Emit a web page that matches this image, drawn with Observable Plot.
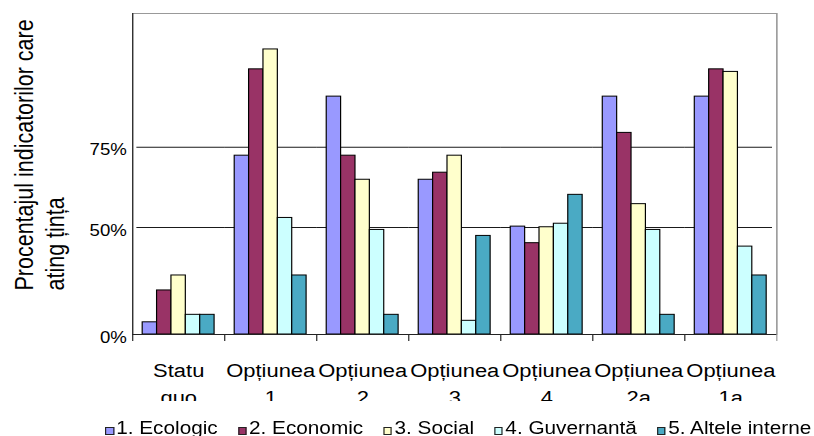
<!DOCTYPE html>
<html><head><meta charset="utf-8">
<script src="https://cdn.jsdelivr.net/npm/d3@7"></script>
<script src="https://cdn.jsdelivr.net/npm/@observablehq/plot@0.6"></script>
<style>
html,body{margin:0;padding:0;background:#fff;overflow:hidden;width:814px;height:436px}
#wrap{width:690px;transform:scaleX(1.1797);transform-origin:0 0;font-family:Arial,"Liberation Sans",sans-serif;color:#000}
#legend{display:flex;margin-top:17px;padding-left:89px;font-size:17.6px;line-height:20px;white-space:nowrap}
.item{margin-right:17px}
.sw{display:inline-block;width:5.5px;height:5.7px;border:1px solid #222;margin-right:2px;vertical-align:-1px}
</style></head><body><div id="wrap"></div>
<script>
const categories = ["Statu quo", "Opțiunea 1", "Opțiunea 2", "Opțiunea 3", "Opțiunea 4", "Opțiunea 2a", "Opțiunea 1a"];
const seriesNames = ["1. Ecologic", "2. Economic", "3. Social", "4. Guvernantă", "5. Altele interne"];
const colors = ["#9999ff", "#993366", "#ffffcc", "#ccffff", "#4aaac4"];
const ecologic   = [5.7, 72.4, 90.8, 64.9, 50.3, 90.8, 90.8];
const economic   = [20.6, 99.3, 72.4, 67.1, 42.7, 79.5, 99.3];
const social     = [27.6, 105.5, 64.9, 72.4, 50.1, 57.3, 98.5];
const guvernanta = [9.2, 53.0, 48.9, 6.4, 51.2, 48.9, 41.1];
const altele     = [9.2, 27.6, 9.2, 46.1, 60.2, 9.2, 27.6];
const yTicks = [0, 50, 75];
const gridTicks = [50, 75];
const titleLines = ["Procentajul indicatorilor care", "ating țința"];

const seriesValues = [ecologic, economic, social, guvernanta, altele];
const rows = categories.flatMap((c, i) => seriesNames.map((s, j) => ({category: c, series: s, si: j, value: seriesValues[j][i]})));
const gridRows = categories.flatMap((c, i) => gridTicks.map(v => ({category: c, ci: i, value: v})));
const last = categories.length - 1;

const W = 690, H = 401, mL = 111.9, mR = 31.5, mT = 13, mB = 67;
const pad = 0.7;
const font = "Arial, 'Liberation Sans', sans-serif";
const gridStyle = {fx: "category", y: "value", stroke: "#1a1a1a"};

// the reference's value axis is not linear: 0%→50% spans 107 units, 50%→75% spans 80.3 units
const yWarp = d3.scaleLinear().domain(yTicks).range([0, 107, 187.3]);
const yMax = 116.7;

const chart = Plot.plot({
  width: W, height: H,
  marginLeft: mL, marginRight: mR, marginTop: mT, marginBottom: mB,
  style: {fontFamily: font, color: "#000", background: "#fff", overflow: "hidden"},
  fx: {domain: categories, padding: 0},
  x: {domain: [-pad, seriesNames.length + pad], axis: null},
  y: {transform: yWarp, domain: [0, yWarp(yMax)]},
  color: {domain: seriesNames, range: colors},
  marks: [
    Plot.frame({facet: "super", stroke: "#999"}),
    Plot.ruleY(gridRows.filter(d => d.ci === 0), {...gridStyle, insetLeft: 3.6}),
    Plot.ruleY(gridRows.filter(d => d.ci > 0 && d.ci < last), gridStyle),
    Plot.ruleY(gridRows.filter(d => d.ci === last), {...gridStyle, insetRight: 3.6}),
    Plot.rectY(rows, {fx: "category", x1: "si", x2: d => d.si + 1, y1: 0, y2: "value", fill: "series", stroke: "#000", strokeWidth: 1}),
    Plot.ruleX(categories.slice(1), {fx: d => d, x: -pad, y1: 0, y2: 0, insetBottom: -7, stroke: "#222"}),
    Plot.ruleX([categories[0]], {fx: d => d, x: -pad, insetBottom: -7, stroke: "#222"}),
    Plot.ruleX([categories[last]], {fx: d => d, x: seriesNames.length + pad, insetBottom: -7, stroke: "#999"}),
    Plot.ruleY(categories, {fx: d => d, y: 0, stroke: "#222"}),
    Plot.axisY({ticks: yTicks.map(yWarp), tickSize: 0, tickPadding: 5, tickFormat: d => Math.round(yWarp.invert(d)) + "%", fontSize: 15.8, dy: 3, label: null}),
    Plot.axisFx({anchor: "bottom", tickSize: 0, tickPadding: 24, fontSize: 18.6, lineHeight: 1.43, tickFormat: d => d.replace(" ", "\n"), label: null}),
    Plot.text([titleLines[0]], {facet: "super", frameAnchor: "bottom-left", rotate: -90, textAnchor: "start", text: d => d, dx: -84.5, dy: -44, fontSize: 21.5}),
    Plot.text([titleLines[1]], {facet: "super", frameAnchor: "bottom-left", rotate: -90, textAnchor: "start", text: d => d, dx: -58, dy: -44, fontSize: 21.5})
  ]
});
chart.setAttribute("overflow", "hidden");
chart.style.overflow = "hidden";

const wrap = document.getElementById("wrap");
wrap.appendChild(chart);

const legend = document.createElement("div");
legend.id = "legend";
seriesNames.forEach((s, j) => {
  const item = document.createElement("span");
  item.className = "item";
  const sw = document.createElement("span");
  sw.className = "sw";
  sw.style.background = colors[j];
  item.appendChild(sw);
  item.appendChild(document.createTextNode(s));
  legend.appendChild(item);
});
wrap.appendChild(legend);
</script>
</body></html>
